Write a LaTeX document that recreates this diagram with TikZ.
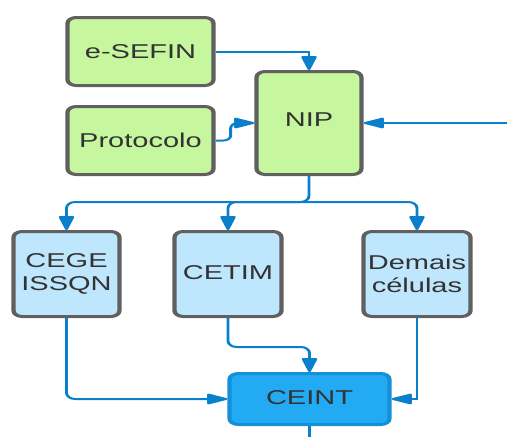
\documentclass[tikz,border=0pt]{standalone}
\usepackage{fontspec}
\setmainfont{Liberation Sans}
\usetikzlibrary{arrows.meta}
\definecolor{leaf}{HTML}{C6F79E}
\definecolor{sky}{HTML}{BEE6FC}
\definecolor{deep}{HTML}{22AAF2}
\definecolor{deepline}{HTML}{1590D8}
\definecolor{edge}{HTML}{606060}
\definecolor{wire}{HTML}{0A80CC}
\tikzset{
	box/.style={draw=edge, line width=3pt, rounded corners=6pt, text=black!80, align=center, inner sep=0pt, font=\fontsize{20}{23}\selectfont},
	greenbox/.style={box, fill=leaf},
	bluebox/.style={box, fill=sky},
	tip/.tip={Triangle[length=16pt,width=11pt,round=false]},
	link/.style={draw=wire, line width=2pt, -tip},
}
\begin{document}
\begin{tikzpicture}[x=1pt,y=-1pt]
				\useasboundingbox (0,0) rectangle (507,437);
				
				% everything is drawn wide: 1.45 times in x
				\begin{scope}[transform canvas={xscale=1.45}, x=0.68966pt]
				\node[greenbox, minimum width=100.7pt, minimum height=68pt] (sefin) at (140.5,51.5) {e-SEFIN};
				\node[greenbox, minimum width=100.7pt, minimum height=68pt] (proto) at (140.5,140.5) {Protocolo};
				\node[greenbox, minimum width=72.4pt, minimum height=103pt] (nip) at (309,123) {\raisebox{6pt}{NIP}};
				
				\node[bluebox, minimum width=73.1pt, minimum height=85pt] (cege) at (66.5,274) {CEGE\\ISSQN};
				\node[bluebox, minimum width=73.8pt, minimum height=85pt] (cetim) at (228,274) {\raisebox{3pt}{CETIM}};
				\node[bluebox, minimum width=73.8pt, minimum height=85pt] (demais) at (417,274) {Demais\\células};
				
				\node[box, draw=deepline, fill=deep, minimum width=110.3pt, minimum height=51pt] (ceint) at (309.5,399) {\raisebox{2pt}{CEINT}};
				
				\coordinate (feed) at (507,123);
				\coordinate (split) at (309,202);
				\coordinate (out) at (309.5,437);
				
				% entradas do NIP
				\draw[link] (sefin.east) -| (nip.north);
				\draw[link, rounded corners=5pt] (proto.east) -- ++(15,0) |- (nip.west);
				\draw[link] (feed) -- (nip.east);
				
				% distribuicao
				\draw[link, rounded corners=6pt] (nip.south) -- (split) -| (cege.north);
				\draw[link, rounded corners=6pt] (split) -| (cetim.north);
				\draw[link, rounded corners=6pt] (split) -| (demais.north);
				
				% retorno ao CEINT
				\draw[link, rounded corners=6pt] (cege.south) |- (ceint.west);
				\draw[link, rounded corners=6pt] (cetim.south) -- ++(0,29) -| (ceint.north);
				\draw[link] (demais.south) |- (ceint.east);
				\draw[draw=wire, line width=2pt] (ceint.south) -- (out);
				\end{scope}
			\end{tikzpicture}
\end{document}
